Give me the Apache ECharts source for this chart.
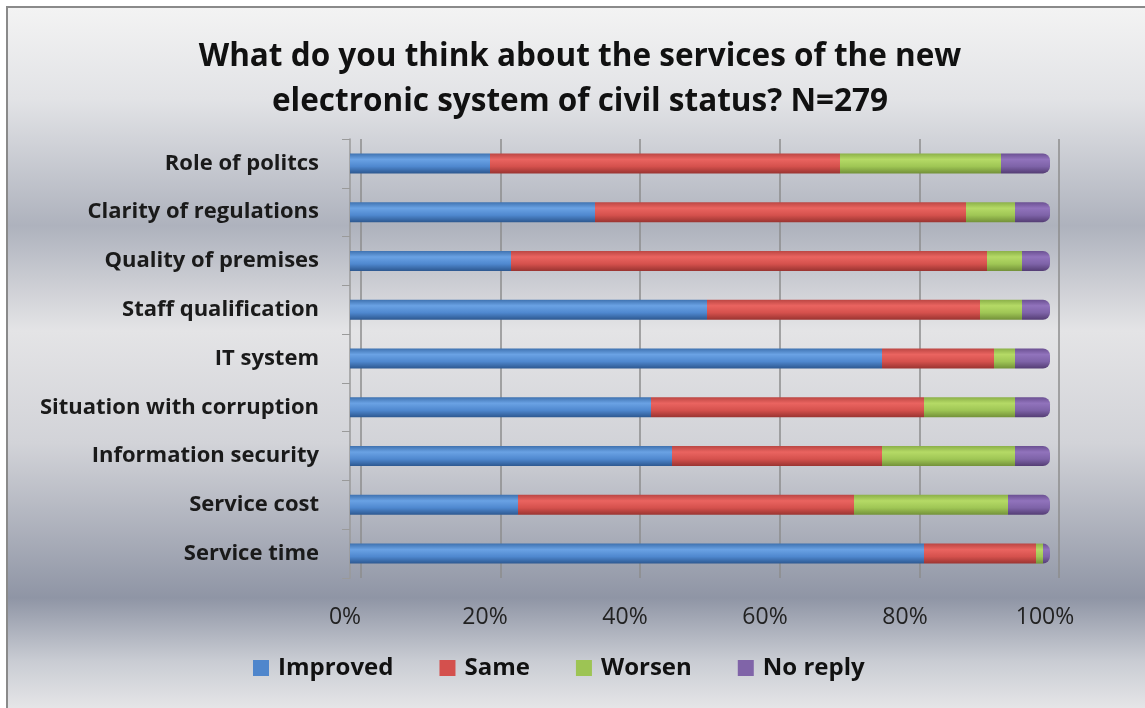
<!DOCTYPE html>
<html>
<head>
<meta charset="utf-8">
<script src="https://cdn.jsdelivr.net/npm/echarts@6/dist/echarts.min.js"></script>
<style>
html,body{margin:0;padding:0;background:#fff;}
#frame{position:absolute;left:6px;top:6px;width:1139px;height:702px;border-left:2px solid #8a8a8a;border-top:2px solid #8a8a8a;
background:linear-gradient(to bottom,#f3f3f3 0%,#e2e3e6 13%,#aeb2bd 31%,#e4e4e6 46%,#d2d3d8 62%,#8f95a5 84%,#c9ccd3 93%,#e6e6e8 100%);}
#chart{position:absolute;left:0;top:0;width:1145px;height:708px;}
</style>
</head>
<body>
<div id="frame"></div>
<div id="chart"></div>
<script>
const categories = ['Service time','Service cost','Information security','Situation with corruption','IT system','Staff qualification','Quality of premises','Clarity of regulations','Role of politcs'];
const improved = [82, 24, 46, 43, 76, 51, 23, 35, 20];
const same     = [16, 48, 30, 39, 16, 39, 68, 53, 50];
const worsen   = [1, 22, 19, 13, 3, 6, 5, 7, 23];
const noReply  = [1, 6, 5, 5, 5, 4, 4, 5, 7];
const seriesNames = ['Improved','Same','Worsen','No reply'];
const tickValues = [0, 20, 40, 60, 80, 100];

function cyl(c0, c1, c2, c3){
  return new echarts.graphic.LinearGradient(0,0,0,1,[
    {offset:0,color:c0},{offset:0.3,color:c1},{offset:0.65,color:c2},{offset:1,color:c3}]);
}
const fills = [
  cyl('#3f72b0','#6aa2e4','#4f88cf','#2d5890'),
  cyl('#bb4643','#ea6460','#d5514d','#9a3431'),
  cyl('#8bb048','#b5da66','#9fc655','#739139'),
  cyl('#6b5092','#9173bc','#7e63a8','#543d74')
];
const legendColors = ['#4f86cc','#d4504d','#9dc454','#8064a8'];
const dataSets = [improved, same, worsen, noReply];

const chart = echarts.init(document.getElementById('chart'), null, {renderer:'canvas'});
const series = dataSets.map((d,i)=>({
  name: seriesNames[i], type:'bar', stack:'all', xAxisIndex:0, yAxisIndex:0,
  barWidth:20, data:d,
  itemStyle:{color:fills[i], borderRadius: i===3?[0,7,7,0]:0},
  emphasis:{disabled:true}
}));
chart.setOption({
  backgroundColor:'transparent',
  animation:false,
  title:{
    text:'What do you think about the services of the new\nelectronic system of civil status? N=279',
    left:575, top:30, textAlign:'center',
    textStyle:{fontFamily:'Open Sans', fontWeight:'bold', fontSize:31.5, lineHeight:45, color:'#111'}
  },
  legend:{
    data: seriesNames.map((n,i)=>({name:n, itemStyle:{color:legendColors[i]}})),
    top:651, left:248, itemWidth:16, itemHeight:16, itemGap:46, icon:'rect',
    textStyle:{fontFamily:'Open Sans', fontWeight:'bold', fontSize:24, color:'#111', padding:[0,0,0,4]}
  },
  grid:[
    {left:350, right:95, top:139, bottom:130},
    {left:361, right:86, top:139, bottom:130}
  ],
  xAxis:[
    {type:'value', gridIndex:0, min:0, max:100, interval:20,
     axisLine:{show:false}, axisTick:{show:false}, splitLine:{show:false},
     axisLabel:{formatter:v=>tickValues.includes(v)?v+'%':'', margin:28, padding:[0,10,0,0], fontFamily:'Open Sans', fontSize:23, color:'#222'}},
    {type:'value', gridIndex:1, min:0, max:100, interval:20,
     axisLine:{show:false}, axisTick:{show:false}, axisLabel:{show:false},
     splitLine:{show:true, lineStyle:{color:'#8c8c8c', width:1.5}}}
  ],
  yAxis:[
    {type:'category', gridIndex:0, data:categories,
     axisLine:{show:true, lineStyle:{color:'#9a9a9a', width:1.5}},
     axisTick:{show:true, length:8, lineStyle:{color:'#9a9a9a'}},
     axisLabel:{margin:31, fontFamily:'Open Sans', fontWeight:'bold', fontSize:22, color:'#1a1a1a'}},
    {type:'category', gridIndex:1, data:categories, show:false}
  ],
  series: series
});
</script>
</body>
</html>
